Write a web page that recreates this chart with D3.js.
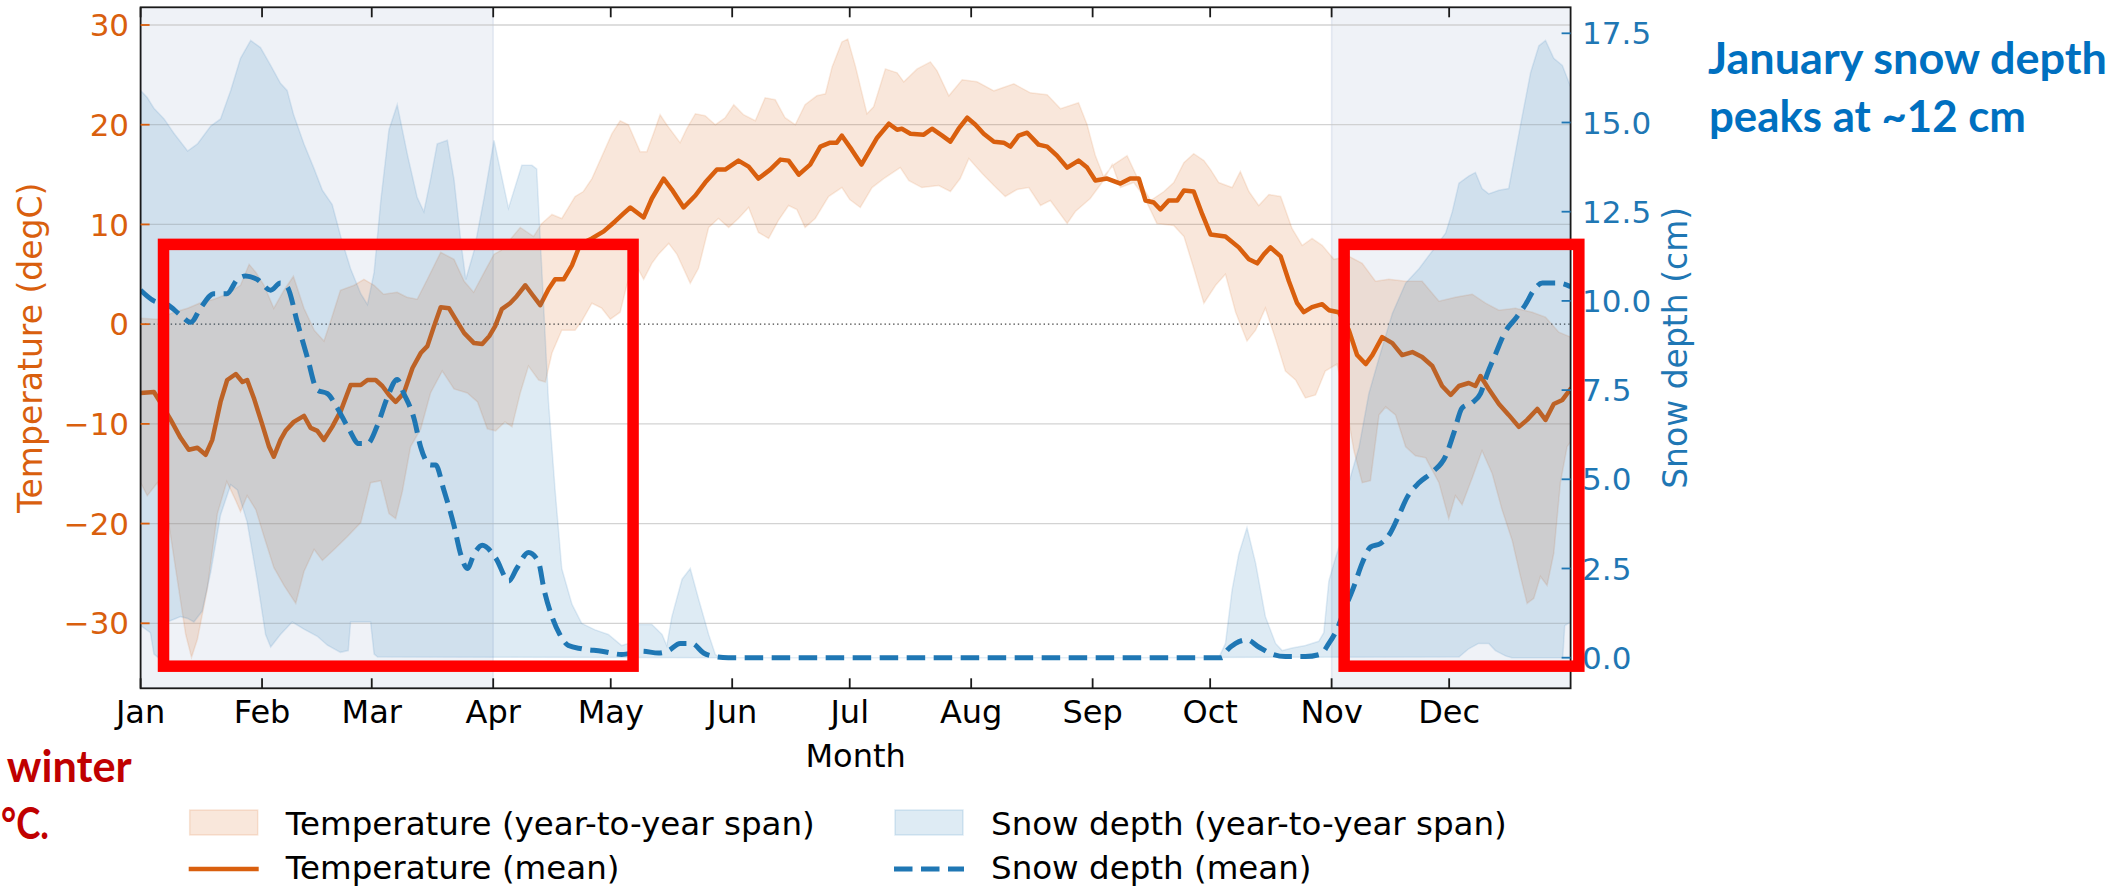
<!DOCTYPE html>
<html>
<head>
<meta charset="utf-8">
<script src="https://cdn.jsdelivr.net/npm/d3@7"></script>
<style>
html, body { margin: 0; padding: 0; background: #ffffff; }
svg { display: block; }
</style>
</head>
<body>
<svg id="chart" width="2119" height="888"></svg>
<script>
// ---------------- DATA ----------------
const months = ["Jan","Feb","Mar","Apr","May","Jun","Jul","Aug","Sep","Oct","Nov","Dec"];
const monthStartDays = [0,31,59,90,120,151,181,212,243,273,304,334];
const tempTicks = [-30,-20,-10,0,10,20,30];
const snowTicks = [0,2.5,5,7.5,10,12.5,15,17.5];
const winterSpans = [[0,90],[304,365]];

// [day of year, degC]
const tempMean = [[0,-6.9],[3.4,-6.8],[5,-7.8],[7.7,-9.6],[10.2,-11.4],[12.3,-12.6],[14.5,-12.4],[16.6,-13.1],[18.3,-11.6],[20.4,-7.8],[22.1,-5.6],[24.3,-5.0],[26,-5.8],[27.2,-5.6],[28.9,-7.4],[31,-10.0],[32.8,-12.3],[34,-13.3],[35.7,-11.6],[37,-10.7],[39.1,-9.8],[41.7,-9.2],[43.4,-10.4],[45.1,-10.7],[46.8,-11.6],[48.9,-10.3],[51.1,-8.7],[53.6,-6.1],[56.2,-6.1],[57.9,-5.6],[60,-5.6],[61.7,-6.2],[63.4,-7.1],[65.1,-7.8],[67.2,-6.9],[69.4,-4.4],[71.5,-2.9],[73.2,-2.2],[74.9,-0.2],[76.6,1.7],[78.7,1.6],[80.4,0.5],[82.6,-0.9],[85.1,-1.9],[87.2,-2.0],[89,-1.2],[90.5,-0.2],[92.2,1.5],[94.3,2.1],[96,2.8],[98.2,3.9],[99.9,3.0],[102,1.9],[104.1,3.5],[105.8,4.5],[108,4.5],[110.1,5.9],[112.2,8.0],[115.2,8.6],[118.2,9.3],[121.1,10.3],[123.3,11.1],[125,11.7],[128.4,10.7],[130.5,12.6],[133.5,14.6],[135.6,13.5],[138.6,11.7],[141.6,12.9],[144.1,14.2],[147.1,15.5],[149.2,15.5],[152.6,16.4],[155.2,15.8],[157.7,14.6],[160.7,15.5],[163.3,16.5],[165.4,16.4],[168,15.0],[170.9,16.0],[173.5,17.8],[176,18.2],[177.7,18.2],[179,18.9],[181.5,17.5],[184,16.0],[188,18.7],[191,20.1],[193.1,19.5],[194.3,19.6],[196.5,19.1],[199.9,19.0],[202,19.6],[204.6,18.9],[206.7,18.3],[208.8,19.6],[211,20.7],[213.1,20.0],[215.2,19.1],[217.8,18.3],[220.3,18.2],[222,17.8],[224.1,18.9],[226.3,19.2],[229.2,18.0],[231.4,17.8],[233.9,16.9],[236.5,15.7],[239.4,16.4],[241.6,15.7],[243.7,14.4],[246.7,14.6],[250.1,14.1],[252.6,14.6],[254.8,14.6],[256.5,12.4],[258.6,12.2],[260.3,11.5],[262.4,12.4],[264.6,12.4],[266.3,13.4],[268.8,13.3],[271,11.0],[273.1,9.0],[276.9,8.8],[280.3,7.7],[282.9,6.5],[285,6.1],[286.7,7.0],[288.4,7.7],[291,6.8],[293.1,4.3],[295.2,2.1],[296.9,1.2],[299,1.7],[301.6,2.0],[303.3,1.4],[305.8,1.2],[308.4,-0.6],[310.5,-3.1],[312.7,-4.0],[314.4,-3.1],[316.9,-1.3],[319.5,-1.9],[322,-3.1],[324.6,-2.8],[327.1,-3.3],[329.7,-4.2],[332.2,-6.2],[334.4,-7.1],[336.5,-6.2],[339,-5.9],[340.7,-6.2],[342,-5.2],[344.1,-6.5],[346.7,-8.0],[349.2,-9.1],[351.8,-10.3],[353.9,-9.6],[356.5,-8.5],[358.6,-9.6],[360.7,-8.0],[362.9,-7.6],[365,-6.5]];

const tempHigh = [[0,0.6],[4.3,0.5],[8.5,1.2],[12,1.6],[15,2.1],[18.7,2.5],[22,3.0],[25.5,3.9],[27.7,6.0],[29.4,5.2],[31.5,3.9],[34,1.6],[36.6,3.4],[39,4.8],[41.7,1.6],[44.3,-0.6],[46.8,-1.7],[48.5,0.3],[51,3.4],[54.5,3.9],[57,4.5],[59.6,3.9],[62,3.0],[65.5,3.2],[68,2.7],[70.6,2.5],[73.2,4.5],[76.6,7.2],[80,6.5],[82.6,4.3],[85,3.2],[87.7,5.2],[90.2,7.0],[92,7.4],[96.9,9.7],[100.3,8.8],[102.4,10.1],[105,11.0],[107.5,10.6],[110.9,12.8],[113,13.3],[115.2,14.6],[117.7,16.8],[120.3,19.1],[122.4,20.4],[124.5,20.0],[127.5,17.3],[129.2,17.3],[130.9,19.1],[132.6,21.0],[134.3,20.0],[137.7,18.2],[139.4,19.6],[141.6,21.1],[144.1,20.9],[146.7,20.0],[149.2,20.7],[151.4,22.0],[153.9,21.0],[156.9,20.4],[159.4,22.7],[162,22.5],[164.5,20.7],[167.1,20.0],[169.6,22.0],[172.6,22.9],[174.8,23.1],[176.5,25.8],[179,28.3],[180.5,28.6],[182.5,25.8],[185.4,21.1],[187.1,21.8],[190.1,25.6],[193.1,25.2],[194.8,24.3],[198.2,25.6],[201.6,26.3],[203.3,25.4],[206.3,22.9],[209.7,24.5],[213.5,24.3],[217.8,23.4],[222.9,24.1],[227.1,23.2],[231.4,23.0],[234.8,21.6],[239.4,22.2],[241.6,20.0],[243.7,16.9],[245.8,14.8],[248.4,16.0],[251.8,16.9],[254.3,14.8],[257.8,12.4],[261.2,13.3],[263.7,14.2],[266.3,16.2],[268.8,17.1],[271.4,16.4],[273.1,15.5],[275.2,14.2],[278.6,13.7],[280.7,15.3],[282.9,13.3],[285.4,11.9],[288,13.0],[291,12.8],[293.9,9.6],[296.5,7.9],[299,8.6],[301.6,7.9],[304.6,6.5],[308.4,6.8],[311.8,6.1],[315.2,4.3],[318.6,4.5],[322.9,4.3],[327.1,4.3],[331.4,2.3],[335.6,2.7],[339.9,3.0],[343.3,2.1],[346.7,1.4],[350.9,1.6],[355.2,1.2],[358.6,0.7],[362,-0.8],[365,-1.3]];

const tempLow = [[0,-15.9],[1.7,-17.2],[4.3,-15.9],[6.8,-19.0],[9.4,-25.7],[11.5,-31.1],[13,-33.4],[14.5,-31.6],[17,-26.6],[19.6,-19.0],[22,-15.8],[24.3,-17.7],[25.5,-18.8],[27.2,-17.2],[29.4,-18.6],[31.5,-21.3],[34,-24.4],[36.6,-26.2],[39.6,-28.0],[41.7,-24.8],[44.3,-22.6],[46.4,-23.7],[49.4,-22.6],[52.8,-21.3],[56.2,-19.9],[58.7,-15.9],[61.3,-15.7],[63.4,-19.0],[65.1,-19.5],[66.8,-16.8],[68.9,-12.3],[71.5,-10.5],[74,-6.9],[77,-4.7],[80,-6.5],[83.4,-6.9],[86,-7.8],[88.5,-10.5],[90.6,-10.7],[93,-9.8],[94.8,-10.3],[96.9,-6.9],[99,-4.2],[101.6,-5.6],[103.3,-5.8],[105,-2.9],[107.5,-0.6],[110.9,-0.6],[112.6,0.3],[115.2,2.1],[117.7,1.6],[119.9,0.5],[122.4,1.2],[124.1,3.9],[126.2,6.1],[128.4,4.5],[130.5,6.1],[132.2,7.0],[134.8,8.1],[136.9,7.0],[140.3,4.1],[142.4,5.6],[145,9.7],[147.5,10.6],[150.1,9.7],[152.6,10.6],[155.2,11.7],[157.7,9.2],[160.3,8.6],[162.8,10.4],[165.4,11.9],[167.5,11.5],[169.6,9.7],[172.2,10.6],[175.6,12.8],[179,13.7],[181,12.5],[183.7,11.7],[186.7,13.7],[189.7,14.6],[193.9,15.7],[196.1,14.4],[199.4,13.7],[203.7,13.9],[206.7,13.3],[209.2,14.6],[211.4,16.6],[214.8,15.1],[217.8,13.9],[220.7,12.8],[223.7,13.5],[226.7,13.7],[229.7,11.9],[232.2,12.4],[236.5,10.1],[238.6,11.3],[242.4,12.6],[245.4,14.2],[248,16.0],[250.1,13.7],[253.5,14.2],[256.1,12.8],[259.4,10.1],[263.7,9.9],[266.3,8.8],[268.8,5.6],[271.4,2.1],[274.4,3.9],[276.9,5.0],[279.5,1.2],[282.4,-1.7],[284.6,-0.6],[287.1,1.6],[289.7,-1.5],[292.2,-4.7],[294.8,-5.6],[297.3,-7.4],[299.9,-7.1],[302.4,-4.7],[305.4,-4.0],[307.5,-7.8],[309.7,-12.7],[311.8,-15.9],[313.9,-15.7],[316.1,-9.1],[317.8,-8.3],[320.3,-9.1],[322.9,-12.3],[325.4,-13.2],[328,-13.4],[331.4,-15.9],[333.9,-19.5],[335.6,-17.2],[337.3,-18.1],[339.9,-15.4],[342.4,-12.7],[345,-15.0],[347.5,-18.6],[350.1,-21.7],[352.2,-25.3],[353.9,-28.0],[355.6,-27.5],[357.3,-25.3],[359,-26.2],[360.7,-23.0],[362.4,-15.9],[364.1,-12.3],[365,-11.8]];

// [day of year, cm]
const snowMean = [[0,10.3],[3.4,10.0],[6.8,9.9],[10.2,9.6],[12.8,9.4],[15.3,9.8],[18.7,10.2],[22,10.2],[24.7,10.6],[26.8,10.7],[29.8,10.6],[33.2,10.3],[35.7,10.5],[37.4,10.4],[40,9.4],[42.6,8.4],[45.1,7.5],[47.7,7.4],[50.2,7.0],[53.2,6.4],[55.7,6.0],[57.9,6.0],[60.4,6.5],[63,7.3],[65.5,7.8],[67.2,7.4],[69.8,6.7],[71.5,5.9],[74,5.4],[75.3,5.4],[77.4,4.7],[80,3.7],[81.7,2.9],[83.4,2.5],[85.1,2.9],[87.2,3.15],[90.6,2.8],[94,2.15],[96,2.5],[99,2.95],[101.5,2.7],[103,1.9],[105,1.15],[107,0.65],[109.2,0.34],[112.6,0.25],[117.7,0.18],[122.8,0.09],[128,0.18],[132.2,0.13],[134.8,0.2],[137.7,0.4],[140.7,0.4],[143.7,0.13],[146.7,0.03],[150,0],[200,0],[250,0],[276,0],[276.9,0.15],[279.5,0.4],[282.4,0.5],[285.4,0.3],[288.8,0.1],[292.2,0.03],[297.3,0.03],[301.2,0.1],[303.3,0.4],[305.4,0.8],[307.5,1.4],[309.7,2.0],[311.8,2.65],[313.9,3.1],[316.5,3.2],[319,3.5],[321.2,4.0],[323.3,4.5],[326.3,4.9],[329.7,5.2],[333.1,5.65],[335.2,6.3],[337.3,7.0],[339.9,7.15],[342,7.4],[343.7,7.95],[345.8,8.5],[348.4,9.15],[350.9,9.5],[353.5,9.9],[355.6,10.3],[357.8,10.5],[359.9,10.5],[362,10.5],[365,10.4]];

const snowHigh = [[0,15.9],[1.7,15.7],[3.4,15.4],[6,15.1],[8.5,14.7],[12,14.2],[14.5,14.4],[17.9,14.9],[20.4,15.1],[23,15.9],[25.5,16.8],[28.1,17.3],[30.6,17.1],[33.2,16.6],[35.7,16.1],[37.4,15.9],[39.1,15.2],[41.7,14.4],[44.3,13.7],[46.4,13.1],[48.9,12.7],[51.1,11.8],[53.6,10.9],[56.2,10.2],[57.9,9.9],[59.6,10.8],[61.3,12.8],[63.4,14.8],[65.5,15.5],[68.1,14.1],[70.6,12.9],[72.3,12.5],[74,13.4],[75.7,14.4],[78.3,14.5],[80,13.4],[81.7,11.7],[83,10.6],[85.1,11.4],[87.7,12.9],[90.2,14.5],[93.9,12.6],[97.3,13.8],[99.9,13.8],[101.1,13.7],[102.4,10.9],[104.1,7.2],[105.8,4.7],[107.5,2.5],[110.1,1.5],[112.6,0.96],[116,0.78],[119.4,0.65],[122.8,0.34],[124.5,0.4],[127.1,0.93],[130.5,0.93],[133.1,0.65],[134.3,0.34],[135.6,1.15],[138.2,2.2],[140.3,2.5],[142.4,1.65],[145,0.65],[146.7,0.09],[148,0],[200,0],[250,0],[275.2,0],[276.9,0.4],[278.6,1.9],[280.3,2.9],[282.4,3.65],[284.6,2.65],[287.1,1.15],[289.7,0.4],[291.4,0.2],[293.9,0.27],[297.3,0.34],[300.7,0.46],[302,0.7],[303.3,2.15],[305,2.8],[307.5,3.65],[308.4,4.9],[311,5.9],[313.5,7.4],[316.1,8.4],[319.5,9.65],[322.9,10.5],[326.3,10.9],[329.7,11.4],[333.1,11.9],[334.8,12.5],[336.5,13.3],[339,13.5],[340.7,13.6],[342.4,13.15],[344.1,13.0],[346.7,13.1],[349.2,13.15],[350.9,14.15],[352.6,15.15],[354.8,16.4],[356.9,17.15],[358.6,17.3],[360.7,16.8],[362.9,16.6],[365,16.0]];

const snowLow = [[0,0.9],[2.5,0.7],[3.4,0.1],[4.5,0.0],[5.5,0.9],[6.8,1.0],[10.2,1.15],[12,1.1],[13.6,1.0],[15.7,1.3],[17.9,2.4],[20.4,4.0],[23,4.85],[24.7,4.7],[27.2,3.8],[29.8,2.15],[31.9,0.65],[33.2,0.3],[35.7,0.65],[38.7,1.0],[41.7,0.8],[45.1,0.6],[47.7,0.35],[51,0.15],[53,0.2],[53.6,1.0],[58.7,1.0],[59.6,0.1],[60.5,0.02],[150,0],[250,0],[336.5,0.02],[339,0.25],[341.5,0.4],[344.1,0.4],[345.8,0.2],[348.4,0.05],[350,0],[363,0],[363.5,0.9],[365,1.0]];

// Annotation boxes in data coordinates: [dayStart, dayEnd, tempTop, tempBottom]
const highlightBoxes = [[5.85,125.7,8.0,-34.3],[307.2,367.1,8.0,-34.3]];

// ---------------- LAYOUT ----------------
const W = 2119, H = 888;
const plot = {left: 140.6, right: 1570.6, top: 7.3, bottom: 688.3};
const TEMP_COLOR = "#d95f0e";
const SNOW_COLOR = "#1f77b4";
const FONT = "'DejaVu Sans', sans-serif";

const svg = d3.select("#chart");
svg.append("rect").attr("width", W).attr("height", H).attr("fill", "#ffffff");

const x = d3.scaleLinear().domain([0, 365]).range([plot.left, plot.right]);
const yT = d3.scaleLinear().domain([-36.518, 31.775]).range([plot.bottom, plot.top]);
const yS = d3.scaleLinear().domain([-0.858, 18.229]).range([plot.bottom, plot.top]);

svg.append("defs").append("clipPath").attr("id", "plotclip")
  .append("rect").attr("x", plot.left).attr("y", plot.top)
  .attr("width", plot.right - plot.left).attr("height", plot.bottom - plot.top);

const g = svg.append("g").attr("clip-path", "url(#plotclip)");

// winter shading
g.selectAll("rect.winter").data(winterSpans).enter().append("rect")
  .attr("class", "winter")
  .attr("x", d => x(d[0])).attr("width", d => x(d[1]) - x(d[0]))
  .attr("y", plot.top).attr("height", plot.bottom - plot.top)
  .attr("fill", "#4a6fa5").attr("fill-opacity", 0.09)
  .attr("stroke", "#4a6fa5").attr("stroke-opacity", 0.12).attr("stroke-width", 1.5);

// grid
g.selectAll("line.grid").data(tempTicks.filter(t => t !== 0)).enter().append("line")
  .attr("x1", plot.left).attr("x2", plot.right)
  .attr("y1", d => yT(d)).attr("y2", d => yT(d))
  .attr("stroke", "#c8c8c8").attr("stroke-opacity", 0.8).attr("stroke-width", 1.3);

// temperature band
const lineT = d3.line().x(d => x(d[0])).y(d => yT(d[1]));
g.append("path")
  .attr("d", lineT(tempHigh.concat(tempLow.slice().reverse())) + "Z")
  .attr("fill", TEMP_COLOR).attr("fill-opacity", 0.15)
  .attr("stroke", TEMP_COLOR).attr("stroke-opacity", 0.12).attr("stroke-width", 1.5);

// zero line
g.append("line").attr("x1", plot.left).attr("x2", plot.right)
  .attr("y1", yT(0)).attr("y2", yT(0))
  .attr("stroke", "#444").attr("stroke-width", 1.3).attr("stroke-dasharray", "1.4 2.9");

// temperature mean
g.append("path").attr("d", lineT(tempMean))
  .attr("fill", "none").attr("stroke", TEMP_COLOR).attr("stroke-width", 4.5)
  .attr("stroke-linejoin", "round").attr("stroke-linecap", "round");

// snow band
const lineS = d3.line().x(d => x(d[0])).y(d => yS(d[1]));
g.append("path")
  .attr("d", lineS(snowHigh.concat(snowLow.slice().reverse())) + "Z")
  .attr("fill", SNOW_COLOR).attr("fill-opacity", 0.15)
  .attr("stroke", SNOW_COLOR).attr("stroke-opacity", 0.12).attr("stroke-width", 1.5);

// snow mean
const lineSm = d3.line().x(d => x(d[0])).y(d => yS(d[1])).curve(d3.curveMonotoneX);
g.append("path").attr("d", lineSm(snowMean))
  .attr("fill", "none").attr("stroke", SNOW_COLOR).attr("stroke-width", 5)
  .attr("stroke-dasharray", "18.5 8.5");

// ---------------- AXES ----------------
const axes = svg.append("g");
axes.append("rect").attr("x", plot.left).attr("y", plot.top)
  .attr("width", plot.right - plot.left).attr("height", plot.bottom - plot.top)
  .attr("fill", "none").attr("stroke", "#1a1a1a").attr("stroke-width", 1.8);

monthStartDays.forEach(d => {
  axes.append("line").attr("x1", x(d)).attr("x2", x(d))
    .attr("y1", plot.bottom).attr("y2", plot.bottom - 10)
    .attr("stroke", "#1a1a1a").attr("stroke-width", 1.8);
  axes.append("line").attr("x1", x(d)).attr("x2", x(d))
    .attr("y1", plot.top).attr("y2", plot.top + 10)
    .attr("stroke", "#1a1a1a").attr("stroke-width", 1.8);
});
axes.selectAll("text.month").data(months).enter().append("text")
  .attr("x", (d, i) => x(monthStartDays[i])).attr("y", 723)
  .attr("text-anchor", "middle").attr("font-family", FONT).attr("font-size", 32)
  .attr("fill", "#000").text(d => d);

tempTicks.forEach(t => {
  axes.append("line").attr("x1", plot.left).attr("x2", plot.left + 9)
    .attr("y1", yT(t)).attr("y2", yT(t))
    .attr("stroke", TEMP_COLOR).attr("stroke-width", 1.8);
  axes.append("text").attr("x", plot.left - 11.5).attr("y", yT(t)).attr("dy", "0.36em")
    .attr("text-anchor", "end").attr("font-family", FONT).attr("font-size", 31)
    .attr("fill", TEMP_COLOR).text(t < 0 ? "\u2212" + Math.abs(t) : String(t));
});

snowTicks.forEach(s => {
  axes.append("line").attr("x1", plot.right).attr("x2", plot.right - 9)
    .attr("y1", yS(s)).attr("y2", yS(s))
    .attr("stroke", SNOW_COLOR).attr("stroke-width", 1.8);
  axes.append("text").attr("x", plot.right + 11.5).attr("y", yS(s)).attr("dy", "0.36em")
    .attr("text-anchor", "start").attr("font-family", FONT).attr("font-size", 31)
    .attr("fill", SNOW_COLOR).text(s.toFixed(1));
});

const midY = (plot.top + plot.bottom) / 2;
axes.append("text").attr("transform", `translate(42,${midY}) rotate(-90)`)
  .attr("text-anchor", "middle").attr("font-family", FONT).attr("font-size", 33)
  .attr("fill", TEMP_COLOR).text("Temperature (degC)");
axes.append("text").attr("transform", `translate(1687,${midY}) rotate(-90)`)
  .attr("text-anchor", "middle").attr("font-family", FONT).attr("font-size", 33)
  .attr("fill", SNOW_COLOR).text("Snow depth (cm)");
axes.append("text").attr("x", (plot.left + plot.right) / 2).attr("y", 767)
  .attr("text-anchor", "middle").attr("font-family", FONT).attr("font-size", 32)
  .attr("fill", "#000").text("Month");

// ---------------- LEGEND ----------------
const legend = svg.append("g");
const legendItems = [
  {type: "patch", color: TEMP_COLOR, label: "Temperature (year-to-year span)", x: 189.7, y: 822.5, ty: 835},
  {type: "line", color: TEMP_COLOR, label: "Temperature (mean)", x: 189.7, y: 869, ty: 879},
  {type: "patch", color: SNOW_COLOR, label: "Snow depth (year-to-year span)", x: 895, y: 822.5, ty: 835},
  {type: "dash", color: SNOW_COLOR, label: "Snow depth (mean)", x: 895, y: 869, ty: 879}
];
legendItems.forEach(it => {
  if (it.type === "patch") {
    legend.append("rect").attr("x", it.x).attr("y", it.y - 12.5).attr("width", 68).attr("height", 25)
      .attr("fill", it.color).attr("fill-opacity", 0.15)
      .attr("stroke", it.color).attr("stroke-opacity", 0.15).attr("stroke-width", 1.5);
  } else {
    legend.append("line").attr("x1", it.x - 1).attr("x2", it.x + 69)
      .attr("y1", it.y).attr("y2", it.y)
      .attr("stroke", it.color).attr("stroke-width", it.type === "line" ? 4.5 : 5)
      .attr("stroke-dasharray", it.type === "dash" ? "18.5 8.5" : null);
  }
  legend.append("text").attr("x", it.x + 96).attr("y", it.ty)
    .attr("font-family", FONT).attr("font-size", 32.5).attr("fill", "#000").text(it.label);
});

// ---------------- ANNOTATIONS ----------------
svg.selectAll("rect.hl").data(highlightBoxes).enter().append("rect")
  .attr("class", "hl")
  .attr("x", d => x(d[0])).attr("y", d => yT(d[2]))
  .attr("width", d => x(d[1]) - x(d[0])).attr("height", d => yT(d[3]) - yT(d[2]))
  .attr("fill", "none").attr("stroke", "#ff0000").attr("stroke-width", 11.5);

const ANN_FONT = "Lato, 'Open Sans', sans-serif";
function annText(str, xx, yy, len, color) {
  svg.append("text").attr("x", xx).attr("y", yy)
    .attr("font-family", ANN_FONT).attr("font-weight", "bold").attr("font-size", 43)
    .attr("fill", color).attr("textLength", len).attr("lengthAdjust", "spacingAndGlyphs")
    .text(str);
}
annText("January snow depth", 1708, 74, 399, "#0070c0");
annText("peaks at ~12 cm", 1709, 131.5, 317, "#0070c0");
annText("winter", 6.7, 782, 125, "#c00000");
annText("\u00B0C.", 1, 839, 48, "#c00000");
</script>
</body>
</html>
